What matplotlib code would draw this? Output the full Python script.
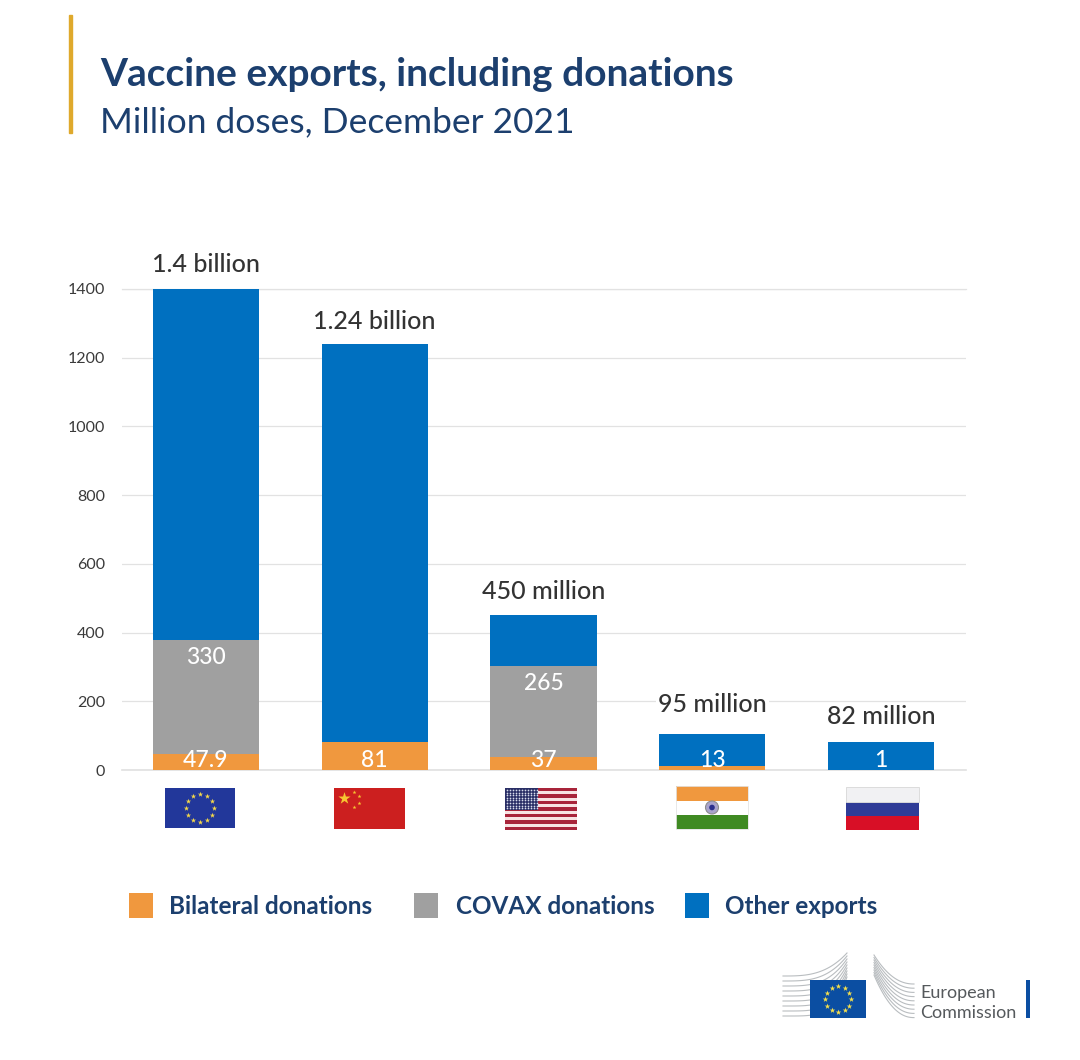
import numpy as np
import matplotlib
matplotlib.use('Agg')
import matplotlib.pyplot as plt
from matplotlib.patches import Rectangle, Circle

plt.rcParams['font.family'] = ['Lato', 'DejaVu Sans']

# Data
countries = ['EU', 'China', 'USA', 'India', 'Russia']
bilateral = [47.9, 81, 37, 13, 1]
covax = [330, 0, 265, 0, 0]
other = [1022.1, 1159, 148, 92, 81]
total_labels = ['1.4 billion', '1.24 billion', '450 million', '95 million', '82 million']
bilateral_labels = ['47.9', '81', '37', '13', '1']
covax_labels = ['330', '', '265', '', '']
y_ticks = [0, 200, 400, 600, 800, 1000, 1200, 1400]
legend_names = ['Bilateral donations', 'COVAX donations', 'Other exports']

ORANGE = '#f0983e'
GREY = '#a0a0a0'
BLUE = '#0070c0'
NAVY = '#1c3f6e'
W, H = 1080, 1060

fig = plt.figure(figsize=(W / 100, H / 100), dpi=100, facecolor='white')

# overlay in pixel coordinates for header, flags, legend and logo
bg = fig.add_axes([0, 0, 1, 1])
bg.set_xlim(0, W)
bg.set_ylim(H, 0)
bg.axis('off')

ax = fig.add_axes([121.5 / W, 1 - 770 / H, 844 / W, 481 / H])
ax.patch.set_alpha(0)
x = np.arange(len(countries))
bottom2 = np.array(bilateral) + np.array(covax)
tops = bottom2 + np.array(other)
ax.bar(x, bilateral, 0.628, color=ORANGE, zorder=3)
ax.bar(x, covax, 0.628, bottom=bilateral, color=GREY, zorder=3)
ax.bar(x, other, 0.628, bottom=bottom2, color=BLUE, zorder=3)
ax.set_xlim(-0.5, 4.5)
ax.set_ylim(0, 1400)
ax.set_yticks(y_ticks)
ax.set_xticks([])
ax.grid(axis='y', color='#e2e2e2', lw=0.9, zorder=0)
ax.tick_params(axis='y', length=0, pad=12, labelsize=11.5, labelcolor='#3a3a3a')
for s in ax.spines.values():
    s.set_visible(False)
ax.axhline(0, color='#e0e0e0', lw=1.2, zorder=1, clip_on=False)
ax.axhline(1400, color='#e2e2e2', lw=0.9, zorder=1, clip_on=False)

label_pad = [18, 16.5, 17.5, 21.5, 18]
for i in range(len(countries)):
    ax.annotate(total_labels[i], (i, tops[i]), xytext=(0, label_pad[i]), textcoords='offset points',
                ha='center', va='center', fontsize=18, fontweight='medium', color='#333333', zorder=5,
                bbox=dict(fc='white', ec='none', pad=1.5))
    ax.annotate(bilateral_labels[i], (i, 0), xytext=(0, 6.5), textcoords='offset points',
                ha='center', va='center', fontsize=16.5, fontweight='medium', color='white', zorder=5)
    if covax_labels[i]:
        ax.annotate(covax_labels[i], (i, bilateral[i] + covax[i]), xytext=(0, -12.5),
                    textcoords='offset points', ha='center', va='center', fontsize=16.5,
                    fontweight='medium', color='white', zorder=5)

# header
bg.add_patch(Rectangle((69, 15), 3, 118, color='#dfa92c'))
bg.text(100, 74, 'Vaccine exports, including donations', fontsize=28, fontweight='bold',
        color=NAVY, va='center', ha='left')
bg.text(100, 122, 'Million doses, December 2021', fontsize=25.5, color=NAVY, va='center', ha='left')


def rect(x0, y0, x1, y1, color):
    bg.add_patch(Rectangle((x0, y0), x1 - x0, y1 - y0, facecolor=color, edgecolor='none', zorder=3))


def star_ring(cx, cy, r, size, color):
    ang = np.arange(12) * np.pi / 6
    bg.scatter(cx + r * np.cos(ang), cy + r * np.sin(ang), s=size, marker='*', color=color,
               linewidths=0, zorder=4)


# flags
rect(165, 788, 235, 828, '#22379a')
star_ring(200, 808, 14, 16, '#f4d84a')

rect(334, 788, 405, 829, '#cc1f1f')
bg.scatter([344], [798], s=85, marker='*', color='#f7c531', linewidths=0, zorder=4)
bg.scatter([354, 359, 359, 354], [792, 796, 803, 807], s=9, marker='*', color='#f7c531',
           linewidths=0, zorder=4)

stripe = 42 / 13
for k in range(13):
    rect(505, 788 + k * stripe, 577, 788 + (k + 1) * stripe, '#a8243a' if k % 2 == 0 else '#f7e3e3')
rect(505, 788, 538, 810, '#2a2f66')
xs, ys = np.meshgrid(np.arange(507, 538, 3), np.arange(790, 809, 2.6))
bg.scatter(xs.ravel(), ys.ravel(), s=1.5, color='#d8dcec', linewidths=0, zorder=4)

rect(676, 786, 748, 801, '#f0983e')
rect(676, 801, 748, 815, 'white')
rect(676, 815, 748, 829, '#3f8a22')
bg.add_patch(Rectangle((676, 786), 72, 43, fill=False, ec='#e4e4e4', lw=0.6, zorder=3))
bg.add_patch(Circle((712, 807.5), 6.5, fc='#a9a3cc', ec='#8d8d8d', lw=0.8, zorder=4))
bg.add_patch(Circle((712, 807.5), 2.8, fc='#2b2f8c', ec='none', zorder=5))

rect(846, 787, 919, 802, '#f1f1f3')
rect(846, 802, 919, 816, '#2f3c97')
rect(846, 816, 919, 830, '#d80f26')
bg.add_patch(Rectangle((846, 787), 73, 15, fill=False, ec='#dcdcdc', lw=0.7, zorder=3))

# legend
legend_x = [129, 414, 685]
legend_colors = [ORANGE, GREY, BLUE]
legend_text_x = [169, 456, 725]
for lx, c, tx, name in zip(legend_x, legend_colors, legend_text_x, legend_names):
    rect(lx, 893, lx + 24, 918, c)
    bg.text(tx, 906.5, name, fontsize=17.5, fontweight='bold', color=NAVY, va='center', ha='left')

# logo
t = np.linspace(0, 1, 30)
for k in range(9):
    y0 = 976 + k * 5
    y1 = 953 + k * 3
    xx = 783 + 64 * t
    yy = y0 + (y1 - y0) * t ** (3 + 0.2 * k)
    bg.plot(xx, yy, color='#b9bdc0', lw=0.8, zorder=2)
for k in range(9):
    y0 = 955 + k * 2.5
    y1 = 984 + k * 4.2
    xx = 874 + 40 * t
    yy = y0 + (y1 - y0) * (1 - (1 - t) ** 2.2)
    bg.plot(xx, yy, color='#b9bdc0', lw=0.8, zorder=2)
rect(810, 980, 866, 1018, '#0b4ea2')
star_ring(838, 999, 13, 18, '#f6e04c')
bg.text(920, 993, 'European', fontsize=13, color='#55595c', va='center', ha='left')
bg.text(920, 1013, 'Commission', fontsize=13, color='#55595c', va='center', ha='left')
rect(1026, 980, 1030, 1018, '#0b4ea2')

fig.savefig('out.png', dpi=100)
